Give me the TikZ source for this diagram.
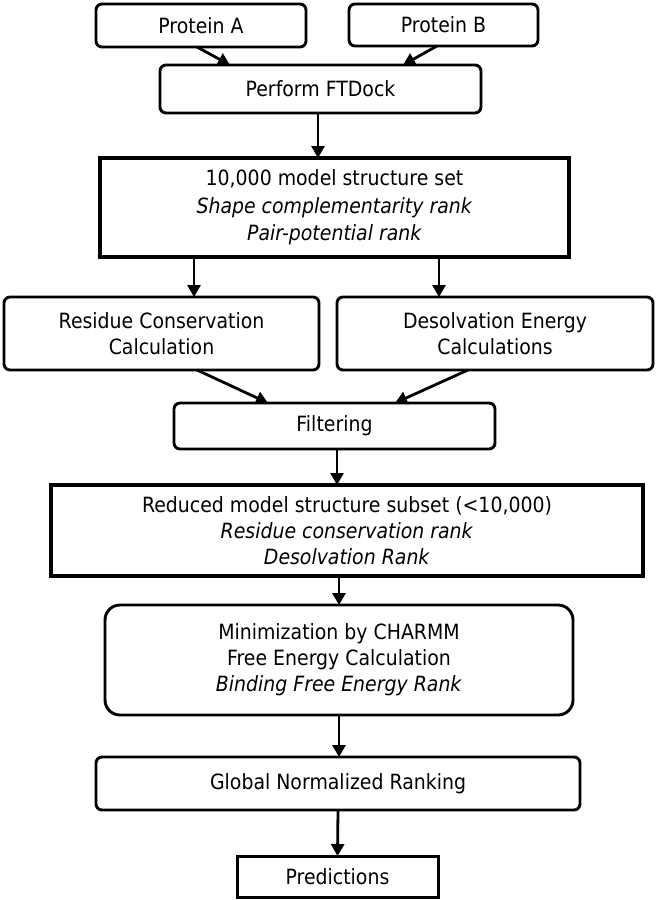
\documentclass[tikz,border=0pt]{standalone}
\usepackage{fontspec}
\setmainfont[FakeStretch=0.9]{DejaVu Sans}
\usetikzlibrary{arrows.meta}
\tikzset{
  rbox/.style={draw, line width=2.9pt, rounded corners=6pt, inner sep=0pt, outer sep=0pt,
    align=center, font=\fontsize{21}{26}\selectfont},
  sbox/.style={rbox, sharp corners, line width=3.6pt},
  arr/.style={line width=2.8pt, -{Triangle[length=12pt,width=13pt]}}
}
\begin{document}
\begin{tikzpicture}[x=1pt,y=-1pt]
      \useasboundingbox (0,0) rectangle (656,900);
      \node[rbox, minimum width=210pt, minimum height=43pt] (protA) at (201,25.5) {Protein A};
      \node[rbox, minimum width=189pt, minimum height=42pt] (protB) at (443.5,25) {Protein B};
      \node[rbox, minimum width=321pt, minimum height=48pt] (ftdock) at (320.5,89) {Perform FTDock};
      \node[sbox, minimum width=469pt, minimum height=99pt, font=\fontsize{21}{27.5}\selectfont] (fullset) at (334.5,207.5)
        {10,000 model structure set\\\textit{Shape complementarity rank}\\\textit{Pair-potential rank}};
      \node[rbox, minimum width=315pt, minimum height=73pt] (resid) at (161.5,333.5)
        {Residue Conservation\\Calculation};
      \node[rbox, minimum width=316pt, minimum height=73pt] (desolv) at (495,333.5)
        {Desolvation Energy\\Calculations};
      \node[rbox, minimum width=321pt, minimum height=46pt] (filter) at (334.5,426) {Filtering};
      \node[sbox, minimum width=592pt, minimum height=91pt] (subset) at (347,530.5)
        {Reduced model structure subset (<10,000)\\\textit{Residue conservation rank}\\\textit{Desolvation Rank}};
      \node[rbox, rounded corners=15pt, minimum width=468pt, minimum height=110pt] (charmm) at (339,660)
        {Minimization by CHARMM\\Free Energy Calculation\\\textit{Binding Free Energy Rank}};
      \node[rbox, minimum width=484pt, minimum height=53pt] (global) at (338,783.5) {Global Normalized Ranking};
      \node[sbox, line width=3pt, minimum width=201pt, minimum height=41pt] (predict) at (337.5,876.5) {Predictions};
      \begin{scope}[arr]
        \draw ([xshift=-4pt]protA.south) to ([xshift=-90.5pt]ftdock.north);
        \draw ([xshift=-6.5pt]protB.south) to ([xshift=82.5pt]ftdock.north);
        \draw ([xshift=-2.5pt]ftdock.south) to ([xshift=-2.5pt]ftdock.south |- fullset.north);
        \draw ([xshift=32.5pt]resid.north |- fullset.south) to ([xshift=32.5pt]resid.north);
        \draw ([xshift=-56pt]desolv.north |- fullset.south) to ([xshift=-56pt]desolv.north);
        \draw ([xshift=35.5pt]resid.south) to ([xshift=-66.5pt]filter.north);
        \draw ([xshift=-27pt]desolv.south) to ([xshift=60.5pt]filter.north);
        \draw ([xshift=2.5pt]filter.south) to ([xshift=2.5pt]filter.south |- subset.north);
        \draw (charmm.north |- subset.south) to (charmm.north);
        \draw (charmm.south) to (charmm.south |- global.north);
        \draw (global.south) to (predict.north);
      \end{scope}
    \end{tikzpicture}
\end{document}
